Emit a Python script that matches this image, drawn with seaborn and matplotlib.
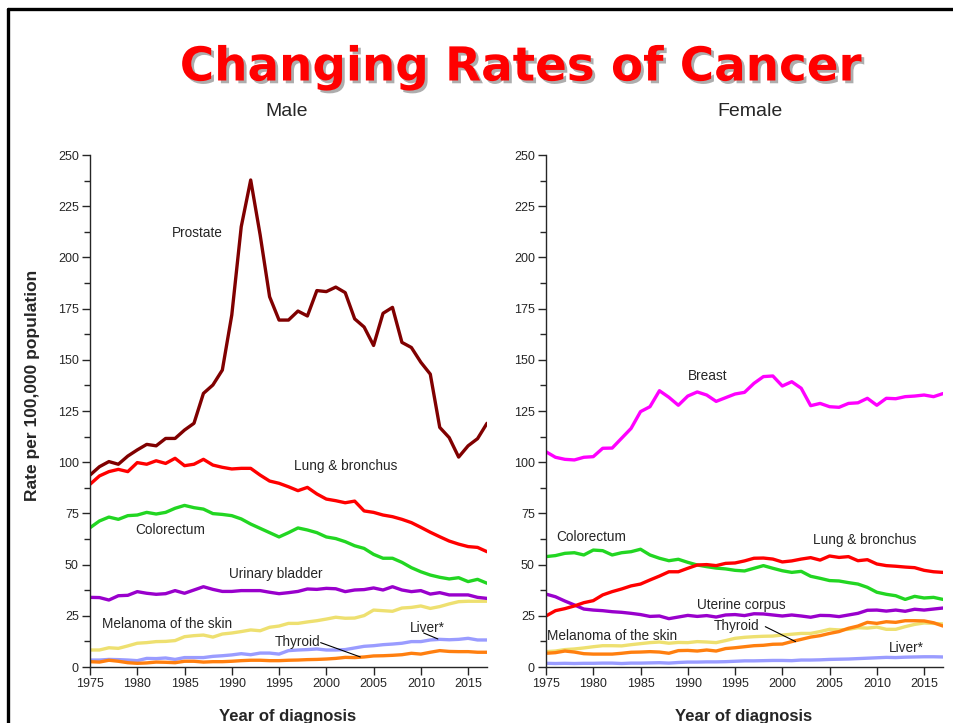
import numpy as np
import matplotlib
matplotlib.use("Agg")
import matplotlib.pyplot as plt
import matplotlib.patheffects as pe
from matplotlib.lines import Line2D
from matplotlib.ticker import MultipleLocator
import seaborn as sns

# years of diagnosis
years = list(range(1975, 2018))

# Male rates per 100,000
male_prostate = [93.7, 97.8, 100.3, 99.0, 103.0, 106.0, 108.7, 108.0, 111.6, 111.6,
                 115.7, 119.0, 133.6, 137.7, 145.0, 171.9, 215.0, 237.8, 211.0, 180.8,
                 169.4, 169.4, 173.8, 171.4, 183.8, 183.3, 185.5, 182.8, 170.0, 166.0,
                 157.0, 172.7, 175.6, 158.5, 156.0, 148.8, 143.0, 117.0, 112.0, 102.5,
                 108.0, 111.5, 119.0]
male_lung = [89.2, 93.3, 95.4, 96.5, 95.4, 99.8, 99.0, 100.7, 99.4, 101.9,
             98.3, 99.0, 101.4, 98.6, 97.5, 96.7, 97.0, 97.0, 93.7, 90.8,
             89.7, 88.0, 86.1, 87.7, 84.5, 82.0, 81.2, 80.2, 81.0, 76.2,
             75.5, 74.2, 73.4, 72.1, 70.5, 68.2, 65.8, 63.6, 61.5, 60.0,
             58.8, 58.4, 56.3]
male_colorectum = [68.0, 71.3, 73.2, 72.1, 73.9, 74.2, 75.5, 74.7, 75.5, 77.5,
                   78.9, 77.8, 77.1, 74.9, 74.5, 73.9, 72.3, 69.8, 67.7, 65.6,
                   63.5, 65.6, 67.9, 66.9, 65.6, 63.5, 62.7, 61.2, 59.2, 57.9,
                   55.0, 53.1, 53.1, 51.1, 48.5, 46.5, 44.9, 43.8, 43.0, 43.6,
                   41.7, 42.8, 40.9]
male_bladder = [34.0, 33.9, 32.7, 34.8, 35.0, 36.8, 36.0, 35.5, 35.8, 37.3,
                36.0, 37.6, 39.2, 37.9, 36.9, 36.9, 37.3, 37.3, 37.3, 36.5,
                35.8, 36.3, 36.9, 38.1, 37.9, 38.4, 38.2, 36.8, 37.6, 37.8,
                38.6, 37.6, 39.2, 37.6, 36.8, 37.3, 35.6, 36.3, 35.2, 35.2,
                35.2, 34.0, 33.5]
male_melanoma = [8.3, 8.3, 9.4, 9.1, 10.3, 11.6, 11.9, 12.4, 12.5, 12.9,
                 14.8, 15.3, 15.6, 14.6, 16.1, 16.6, 17.3, 18.1, 17.7, 19.4,
                 20.0, 21.3, 21.3, 22.0, 22.6, 23.4, 24.3, 23.8, 23.9, 25.1,
                 27.8, 27.5, 27.2, 28.8, 29.1, 29.8, 28.6, 29.5, 30.8, 31.9,
                 32.1, 32.1, 32.1]
male_liver = [3.4, 3.4, 3.7, 3.6, 3.4, 3.1, 4.2, 4.1, 4.4, 3.7,
              4.6, 4.6, 4.6, 5.2, 5.5, 5.9, 6.5, 6.0, 6.8, 6.8,
              6.3, 8.0, 8.3, 8.5, 8.8, 8.3, 8.3, 8.5, 9.3, 10.1,
              10.4, 10.9, 11.2, 11.6, 12.4, 12.4, 13.2, 13.5, 13.3, 13.5,
              14.0, 13.2, 13.2]
male_thyroid = [2.6, 2.4, 3.3, 2.8, 2.1, 1.8, 2.0, 2.4, 2.3, 2.1,
                2.8, 2.8, 2.4, 2.6, 2.6, 2.8, 3.1, 3.3, 3.3, 3.1,
                3.1, 3.3, 3.4, 3.6, 3.7, 3.9, 4.2, 4.7, 4.6, 4.9,
                5.4, 5.5, 5.7, 6.0, 6.7, 6.3, 7.2, 8.0, 7.6, 7.5,
                7.5, 7.2, 7.2]

# Female rates per 100,000
female_breast = [105.1, 102.4, 101.4, 101.1, 102.4, 102.7, 106.8, 106.9, 111.7, 116.5,
                 124.7, 127.1, 134.9, 131.7, 127.8, 132.3, 134.3, 132.8, 129.7, 131.5,
                 133.3, 134.1, 138.5, 141.8, 142.1, 137.2, 139.3, 136.1, 127.6, 128.7,
                 127.1, 126.8, 128.7, 129.0, 131.2, 127.8, 131.2, 131.0, 132.0, 132.3,
                 132.8, 132.0, 133.5]
female_colorectum = [53.9, 54.4, 55.5, 55.8, 54.7, 57.1, 56.8, 54.7, 55.8, 56.3,
                     57.5, 54.7, 53.1, 51.9, 52.6, 51.1, 49.8, 49.0, 48.3, 47.9,
                     47.2, 46.9, 48.2, 49.5, 48.2, 47.0, 46.2, 46.7, 44.3, 43.3,
                     42.2, 42.0, 41.2, 40.5, 38.9, 36.5, 35.5, 34.8, 33.0, 34.5,
                     33.7, 34.0, 33.0]
female_lung = [24.9, 27.5, 28.5, 29.8, 31.4, 32.4, 35.2, 36.8, 38.1, 39.6,
               40.5, 42.5, 44.4, 46.5, 46.5, 48.2, 49.8, 50.0, 49.5, 50.6,
               50.8, 51.8, 53.1, 53.2, 52.7, 51.3, 51.8, 52.7, 53.4, 52.2,
               54.2, 53.5, 53.9, 51.9, 52.4, 50.3, 49.5, 49.2, 48.8, 48.5,
               47.2, 46.5, 46.2]
female_uterine = [35.6, 34.3, 32.2, 30.3, 28.3, 27.8, 27.5, 27.0, 26.7, 26.2,
                  25.6, 24.7, 24.9, 23.6, 24.4, 25.2, 24.7, 25.1, 24.4, 25.4,
                  25.6, 25.1, 26.0, 25.9, 25.4, 24.9, 25.4, 24.9, 24.3, 25.2,
                  25.1, 24.6, 25.4, 26.2, 27.7, 27.8, 27.3, 27.8, 27.2, 28.2,
                  27.8, 28.3, 28.8]
female_thyroid = [6.7, 7.0, 7.8, 7.3, 6.5, 6.3, 6.3, 6.3, 6.7, 7.2,
                  7.3, 7.5, 7.3, 6.7, 8.0, 8.1, 7.8, 8.3, 7.8, 9.0,
                  9.4, 9.9, 10.4, 10.6, 11.1, 11.2, 12.4, 13.5, 14.6, 15.3,
                  16.4, 17.3, 18.9, 20.0, 21.8, 21.3, 22.1, 21.8, 22.6, 22.6,
                  22.5, 21.6, 20.0]
female_melanoma = [7.5, 7.8, 8.5, 8.8, 9.3, 9.9, 10.4, 10.4, 10.3, 10.9,
                   11.4, 11.9, 12.2, 11.6, 12.0, 11.9, 12.4, 12.2, 11.9, 12.9,
                   14.0, 14.5, 14.8, 15.0, 15.1, 15.6, 16.0, 16.4, 16.4, 17.3,
                   18.4, 18.1, 18.4, 19.2, 19.0, 19.5, 18.4, 18.4, 19.7, 20.8,
                   21.5, 21.3, 21.0]
female_liver = [1.8, 1.7, 1.8, 1.7, 1.8, 1.8, 1.9, 1.9, 1.7, 1.9,
                1.9, 2.0, 2.1, 1.9, 2.2, 2.4, 2.4, 2.5, 2.5, 2.6,
                2.8, 3.0, 3.0, 3.1, 3.2, 3.2, 3.1, 3.4, 3.4, 3.5,
                3.7, 3.8, 3.9, 4.1, 4.3, 4.5, 4.7, 4.6, 4.8, 4.9,
                5.0, 5.0, 4.9]

C_PROSTATE = "#800000"
C_LUNG = "#ff0000"
C_COLO = "#22d622"
C_PURPLE = "#9900cc"
C_MEL = "#eee070"
C_LIVER = "#9a9cff"
C_THY = "#ff7f0f"
C_BREAST = "#ff00ff"

sns.set_style("ticks")
plt.rcParams['font.family'] = ['Liberation Sans', 'DejaVu Sans']

fig = plt.figure(figsize=(9.54, 7.23), dpi=100)
ax_m = fig.add_axes([90 / 954, 1 - 667 / 723, 397 / 954, 512 / 723])
ax_f = fig.add_axes([546 / 954, 1 - 667 / 723, 397 / 954, 512 / 723])

male = [(male_liver, C_LIVER), (male_thyroid, C_THY), (male_melanoma, C_MEL),
        (male_bladder, C_PURPLE), (male_colorectum, C_COLO), (male_lung, C_LUNG),
        (male_prostate, C_PROSTATE)]
female = [(female_liver, C_LIVER), (female_melanoma, C_MEL), (female_thyroid, C_THY),
          (female_uterine, C_PURPLE), (female_colorectum, C_COLO), (female_lung, C_LUNG),
          (female_breast, C_BREAST)]

for ax, series in [(ax_m, male), (ax_f, female)]:
    for vals, col in series:
        sns.lineplot(x=years, y=vals, color=col, lw=2.4, ax=ax)
    ax.set_xlim(1975, 2017)
    ax.set_ylim(0, 250)
    ax.xaxis.set_major_locator(MultipleLocator(5))
    ax.yaxis.set_major_locator(MultipleLocator(25))
    ax.yaxis.set_minor_locator(MultipleLocator(12.5))
    ax.tick_params(axis='both', which='major', labelsize=9, length=6, width=1, pad=2)
    ax.tick_params(axis='y', which='minor', length=4, width=1)
    for s in ['top', 'right']:
        ax.spines[s].set_visible(False)
    for s in ['left', 'bottom']:
        ax.spines[s].set_linewidth(1)
    ax.set_xlabel('')
    ax.set_ylabel('')

fs = 9.8
# male labels
ax_m.text(1986.4, 211.9, "Prostate", fontsize=fs, ha='center', va='center')
ax_m.text(2002.1, 98.3, "Lung & bronchus", fontsize=fs, ha='center', va='center')
ax_m.text(1983.5, 66.9, "Colorectum", fontsize=fs, ha='center', va='center')
ax_m.text(1994.6, 45.4, "Urinary bladder", fontsize=fs, ha='center', va='center')
ax_m.text(1983.2, 21.0, "Melanoma of the skin", fontsize=fs, ha='center', va='center')
ax_m.text(1997.0, 12.2, "Thyroid", fontsize=fs, ha='center', va='center')
ax_m.plot([1999.4, 2003.6], [11.9, 4.9], color='black', lw=0.8)
ax_m.text(2010.7, 19.2, "Liver*", fontsize=fs, ha='center', va='center')
ax_m.plot([2010.3, 2011.8], [16.6, 13.7], color='black', lw=0.8)

# female labels
ax_f.text(1992.1, 142.1, "Breast", fontsize=fs, ha='center', va='center')
ax_f.text(1979.8, 63.6, "Colorectum", fontsize=fs, ha='center', va='center')
ax_f.text(2008.7, 62.0, "Lung & bronchus", fontsize=fs, ha='center', va='center')
ax_f.text(1995.7, 30.3, "Uterine corpus", fontsize=fs, ha='center', va='center')
ax_f.text(1995.2, 20.0, "Thyroid", fontsize=fs, ha='center', va='center')
ax_f.plot([1998.2, 2001.4], [19.7, 12.4], color='black', lw=0.8)
ax_f.text(1982.0, 15.1, "Melanoma of the skin", fontsize=fs, ha='center', va='center')
ax_f.text(2013.1, 9.1, "Liver*", fontsize=fs, ha='center', va='center')

# titles
fig.text(520 / 954, 1 - 68 / 723, "Changing Rates of Cancer", color='#ff0000',
         fontsize=33.7, fontweight='bold', family=['DejaVu Sans'], ha='center', va='center',
         path_effects=[pe.SimplePatchShadow(offset=(2, -2), shadow_rgbFace='#777777', alpha=0.6),
                       pe.Normal()])
fig.text(287 / 954, 1 - 112 / 723, "Male", fontsize=14, ha='center', va='center')
fig.text(750 / 954, 1 - 112 / 723, "Female", fontsize=14, ha='center', va='center')
fig.text(33 / 954, 1 - 385 / 723, "Rate per 100,000 population", fontsize=12.5,
         fontweight='bold', rotation=90, ha='center', va='center')
fig.text(288 / 954, 1 - 716 / 723, "Year of diagnosis", fontsize=12, fontweight='bold',
         ha='center', va='center')
fig.text(744 / 954, 1 - 716 / 723, "Year of diagnosis", fontsize=12, fontweight='bold',
         ha='center', va='center')

# slide frame
fig.add_artist(Line2D([8.5 / 954, 1.0], [1 - 9 / 723, 1 - 9 / 723], color='black', lw=2.4))
fig.add_artist(Line2D([8.5 / 954, 8.5 / 954], [0, 1 - 9 / 723], color='black', lw=2.4))

fig.savefig("out.png", dpi=100)
